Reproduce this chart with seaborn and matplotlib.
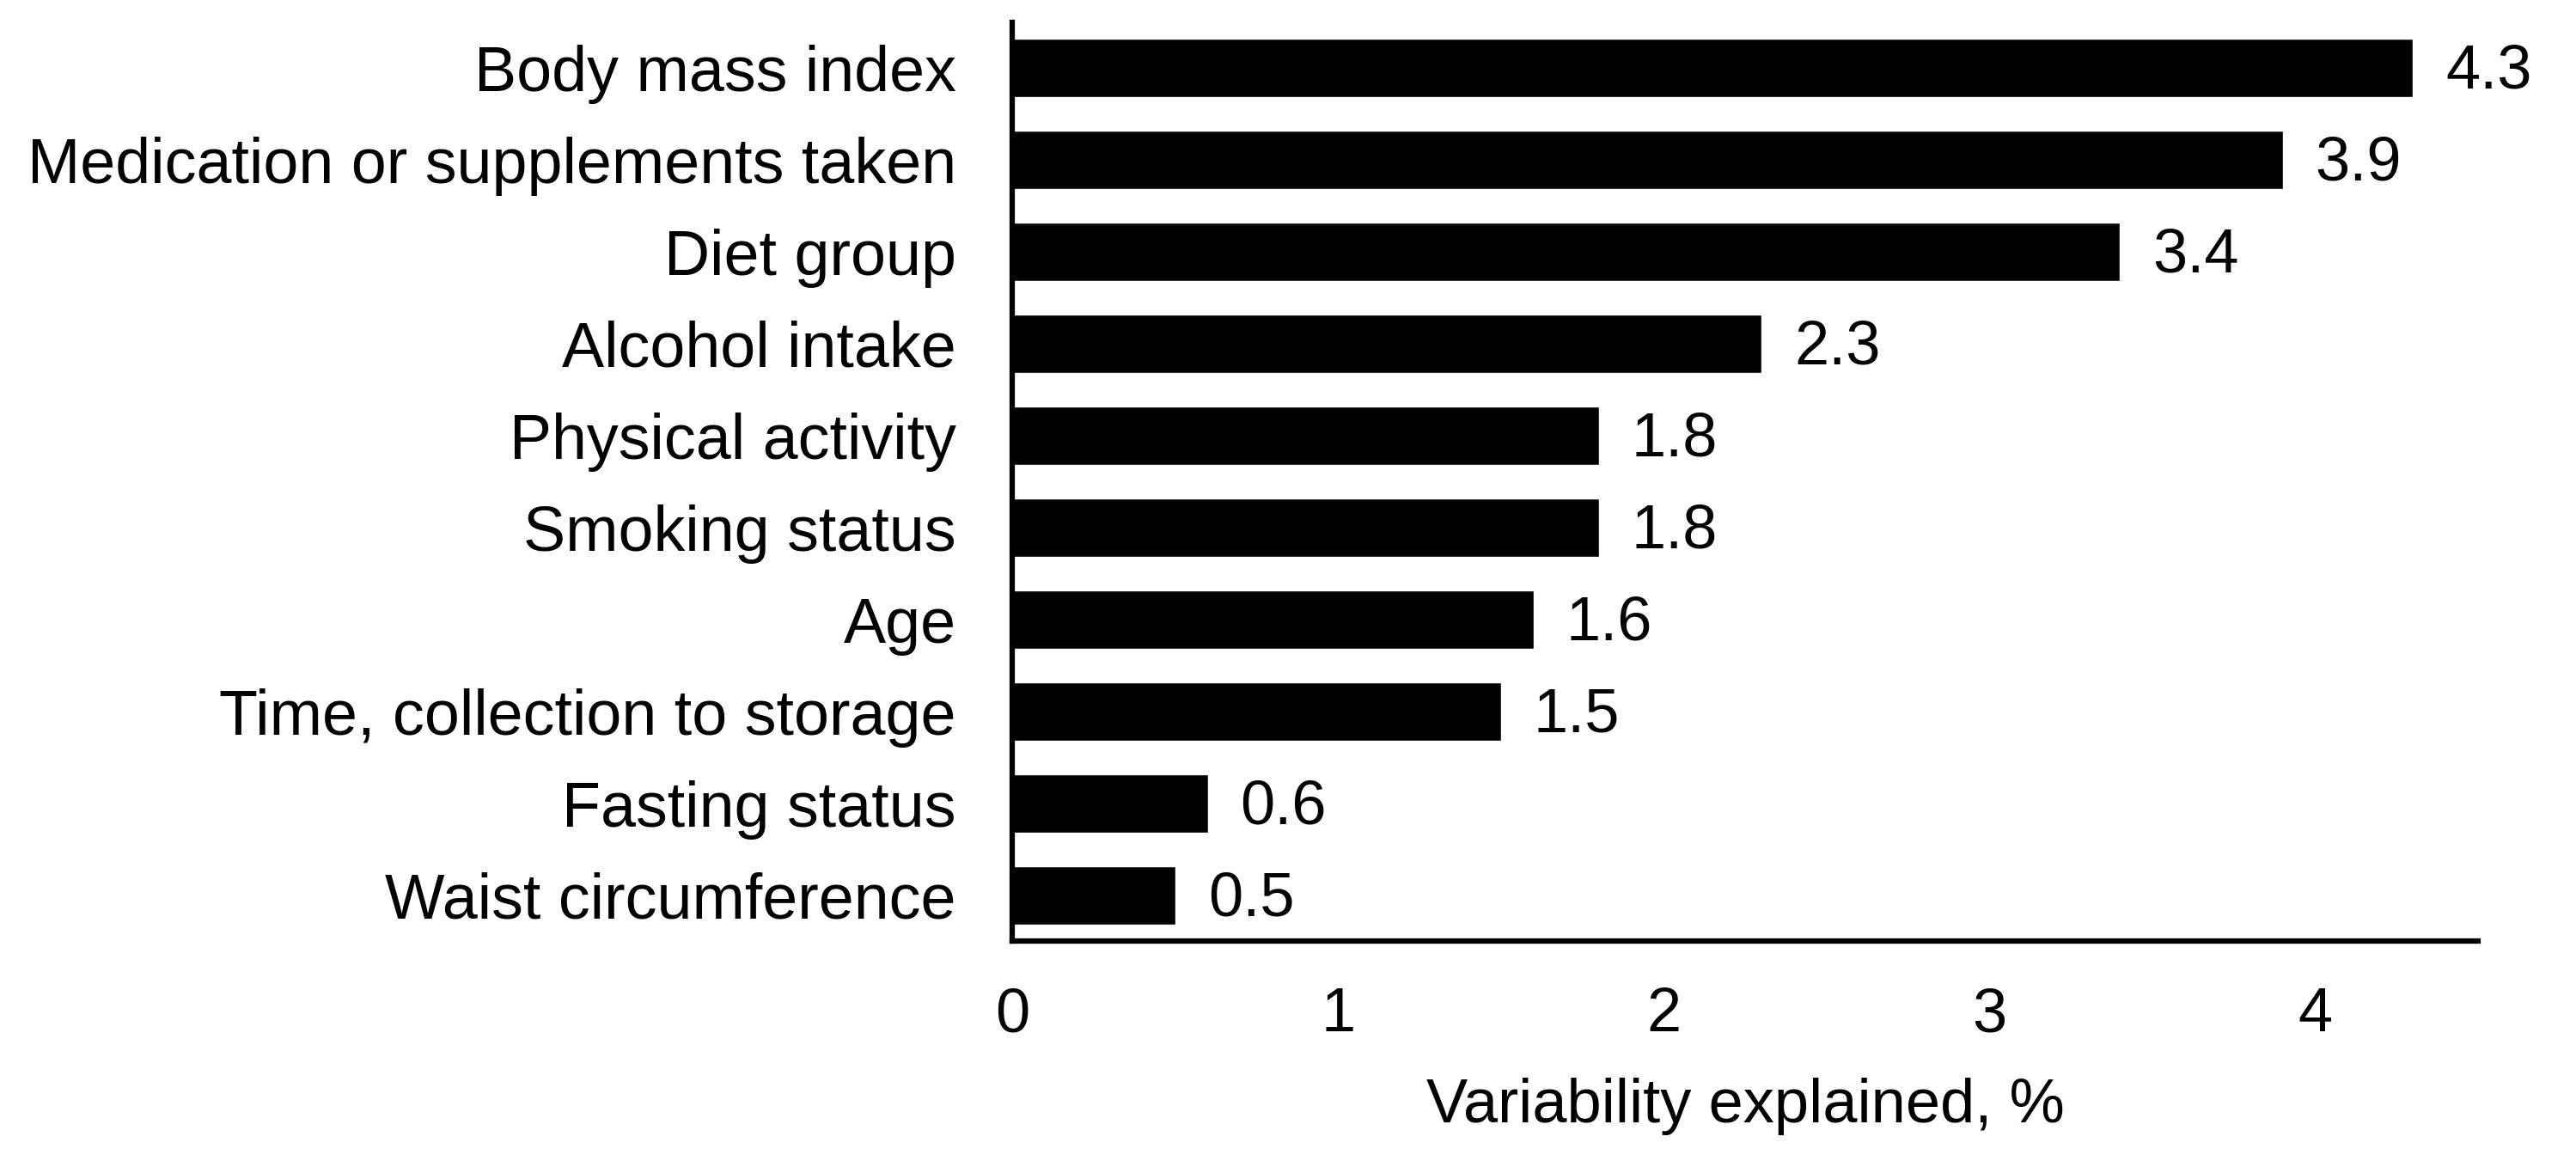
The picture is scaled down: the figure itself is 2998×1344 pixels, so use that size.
import pandas as pd
import seaborn as sns
import matplotlib.pyplot as plt

sns.set_style('white')
plt.rcParams['font.family'] = ['Liberation Sans', 'DejaVu Sans']
plt.rcParams['text.color'] = 'black'
plt.rcParams['axes.labelcolor'] = 'black'

factors = ['Body mass index', 'Medication or supplements taken', 'Diet group',
           'Alcohol intake', 'Physical activity', 'Smoking status', 'Age',
           'Time, collection to storage', 'Fasting status', 'Waist circumference']
explained = [4.3, 3.9, 3.4, 2.3, 1.8, 1.8, 1.6, 1.5, 0.6, 0.5]

df = pd.DataFrame({'factor': factors, 'explained': explained})

fig = plt.figure(figsize=(29.98, 13.44), dpi=100)
ax = fig.add_axes([0.393, 0.185, 0.569, 0.796])

sns.barplot(data=df, x='explained', y='factor', color='black', width=0.64,
            saturation=1, ax=ax)

# value labels right of each bar
for i, v in enumerate(explained):
    ax.text(v + 0.1, i + 0.05, f'{v:.1f}', va='center', ha='left', fontsize=52)

ax.set_xlim(0, 4.5)
ax.set_ylim(9.5, -0.5)
ax.set_xticks([0, 1, 2, 3, 4])
ax.set_xlabel('Variability explained, %', fontsize=52, labelpad=28)
ax.set_ylabel('')

for s in ['top', 'right']:
    ax.spines[s].set_visible(False)
for s in ['left', 'bottom']:
    ax.spines[s].set_linewidth(4.5)
    ax.spines[s].set_color('black')

ax.tick_params(axis='x', length=16, width=2.5, pad=22, labelsize=52, colors='black')
ax.tick_params(axis='y', length=0, pad=47, labelsize=53, colors='black')

fig.savefig('out.png', dpi=100)
